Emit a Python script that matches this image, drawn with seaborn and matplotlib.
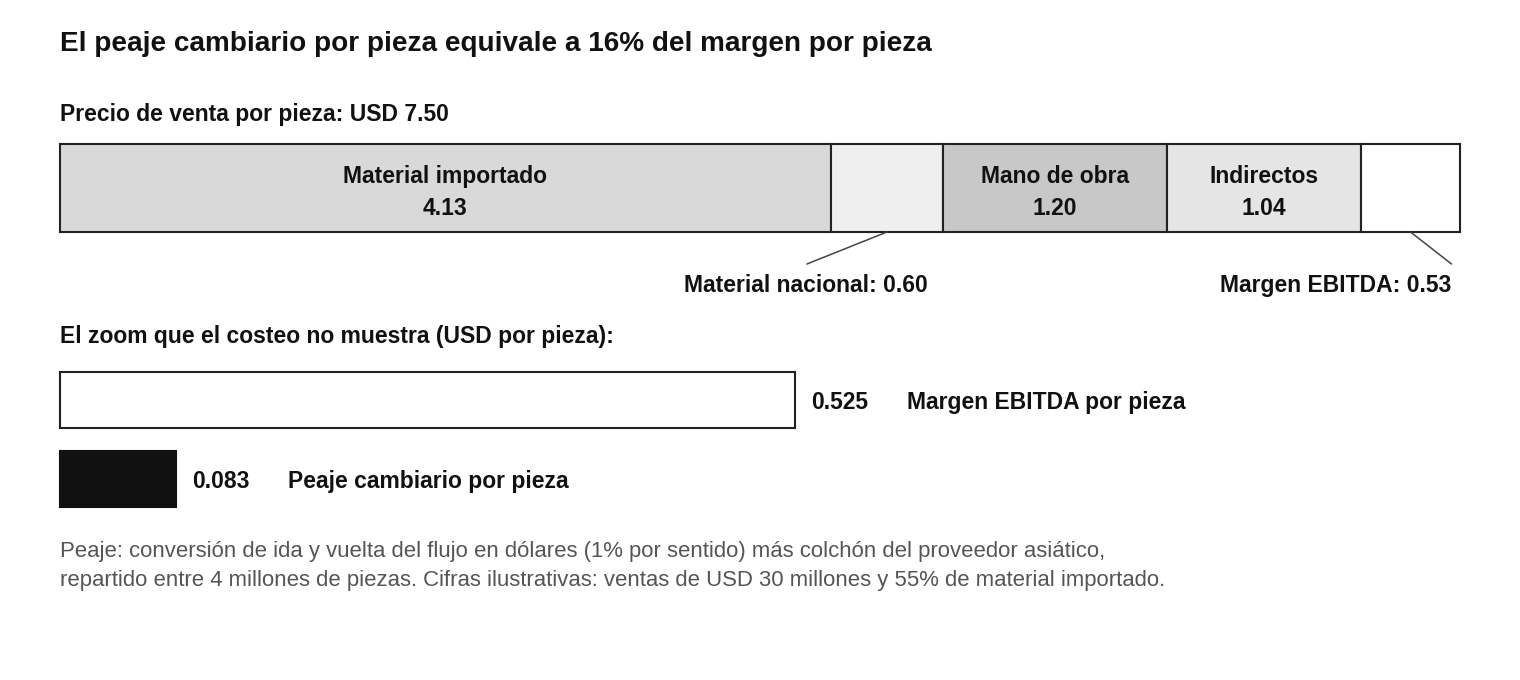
import matplotlib
matplotlib.use("Agg")
import matplotlib.pyplot as plt
import matplotlib.transforms as mtransforms
import seaborn as sns
import pandas as pd
import numpy as np

# ---- data ----
title = "El peaje cambiario por pieza equivale a 16% del margen por pieza"
price_label = "Precio de venta por pieza: USD 7.50"
seg_names = ["Material importado", "Material nacional", "Mano de obra", "Indirectos", "Margen EBITDA"]
seg_values = [4.13, 0.60, 1.20, 1.04, 0.53]
seg_colors = ["#d9d9d9", "#efefef", "#c8c8c8", "#e5e5e5", "#ffffff"]

zoom_label = "El zoom que el costeo no muestra (USD por pieza):"
zoom_names = ["Margen EBITDA por pieza", "Peaje cambiario por pieza"]
zoom_values = [0.525, 0.083]
zoom_colors = ["#ffffff", "#111111"]

footnote_lines = [
    "Peaje: conversión de ida y vuelta del flujo en dólares (1% por sentido) más colchón del proveedor asiático,",
    "repartido entre 4 millones de piezas. Cifras ilustrativas: ventas de USD 30 millones y 55% de material importado.",
]

# ---- style ----
sns.set_theme(style="white")
plt.rcParams["font.family"] = ["Liberation Sans", "DejaVu Sans"]

W, H = 1520, 680
fig = plt.figure(figsize=(W / 100, H / 100), dpi=100)
fig.patch.set_facecolor("white")

def fx(px):
    return px / W

def fy(py):
    return 1 - py / H

EDGE = "#222222"
LBL = 16.5
PT = 0.72  # points per pixel at dpi 100

fig.text(fx(60), fy(51), title, fontsize=20.1, fontweight="bold", color="#111111", va="baseline", ha="left")
fig.text(fx(60), fy(121), price_label, fontsize=LBL, fontweight="bold", color="#111111", va="baseline", ha="left")
fig.text(fx(60), fy(343), zoom_label, fontsize=LBL, fontweight="bold", color="#111111", va="baseline", ha="left")
for k, line in enumerate(footnote_lines):
    fig.text(fx(60), fy(557 + 29 * k), line, fontsize=15.9, color="#555555", va="baseline", ha="left")

# ---- top stacked bar ----
ax1 = fig.add_axes([fx(60), fy(232), 1400 / W, 88 / H])
total = sum(seg_values)
lefts = np.concatenate([[0], np.cumsum(seg_values)[:-1]])
ax1.barh([0] * len(seg_values), seg_values, left=lefts, height=1.0, color=seg_colors,
         edgecolor=EDGE, linewidth=1.5, clip_on=False)
ax1.set_xlim(0, total)
ax1.set_ylim(-0.5, 0.5)
ax1.axis("off")

for i, (name, v, l) in enumerate(zip(seg_names, seg_values, lefts)):
    c = l + v / 2
    if v >= 1.0:
        t1 = mtransforms.offset_copy(ax1.transData, fig=fig, x=0, y=-39 * PT, units="points")
        ax1.text(c, 0.5, name, transform=t1, ha="center", va="baseline", fontsize=LBL,
                 fontweight="bold", color="#111111")
        t2 = mtransforms.offset_copy(ax1.transData, fig=fig, x=0, y=-71 * PT, units="points")
        ax1.text(c, 0.5, f"{v:.2f}", transform=t2, ha="center", va="baseline", fontsize=LBL,
                 fontweight="bold", color="#111111")
    else:
        # leader line from segment bottom centre
        last = (i == len(seg_values) - 1)
        dx_px = 41 if last else -80
        xdata_end = c + dx_px * total / 1400
        ax1.plot([c, xdata_end], [-0.5, -0.5 - 32 / 88], color="#444444", lw=1.1, clip_on=False)
        right_px = -9 if last else -15
        tt = mtransforms.offset_copy(ax1.transData, fig=fig, x=right_px * PT, y=-60 * PT, units="points")
        ax1.text(l + v, -0.5, f"{name}: {v:.2f}", transform=tt, ha="right", va="baseline",
                 fontsize=LBL, fontweight="bold", color="#111111")

# ---- zoom bars ----
ax2 = fig.add_axes([fx(60), fy(520), 1400 / W, 160 / H])
df = pd.DataFrame({"name": zoom_names, "value": zoom_values})
sns.barplot(data=df, y="name", x="value", hue="name", palette=dict(zip(zoom_names, zoom_colors)),
            orient="h", width=56 / 79.5, legend=False, ax=ax2, edgecolor=EDGE, linewidth=1.5)
for p, col in zip(ax2.patches, zoom_colors):
    p.set_clip_on(False)
    if col == "#111111":
        p.set_edgecolor("#111111")
ax2.set_xlim(0, 1.0)
ax2.set_ylim(1 + (520 - 479.5) / 79.5, -(400 - 360) / 79.5)
ax2.axis("off")

for i, (name, v) in enumerate(zip(zoom_names, zoom_values)):
    t1 = mtransforms.offset_copy(ax2.transData, fig=fig, x=16 * PT, y=-9 * PT, units="points")
    ax2.text(v, i, f"{v:.3f}", transform=t1, ha="left", va="baseline", fontsize=LBL,
             fontweight="bold", color="#111111")
    t2 = mtransforms.offset_copy(ax2.transData, fig=fig, x=(16 + 96) * PT, y=-9 * PT, units="points")
    ax2.text(v, i, name, transform=t2, ha="left", va="baseline", fontsize=LBL,
             fontweight="bold", color="#111111")

fig.savefig("out.png", dpi=100, facecolor="white")
